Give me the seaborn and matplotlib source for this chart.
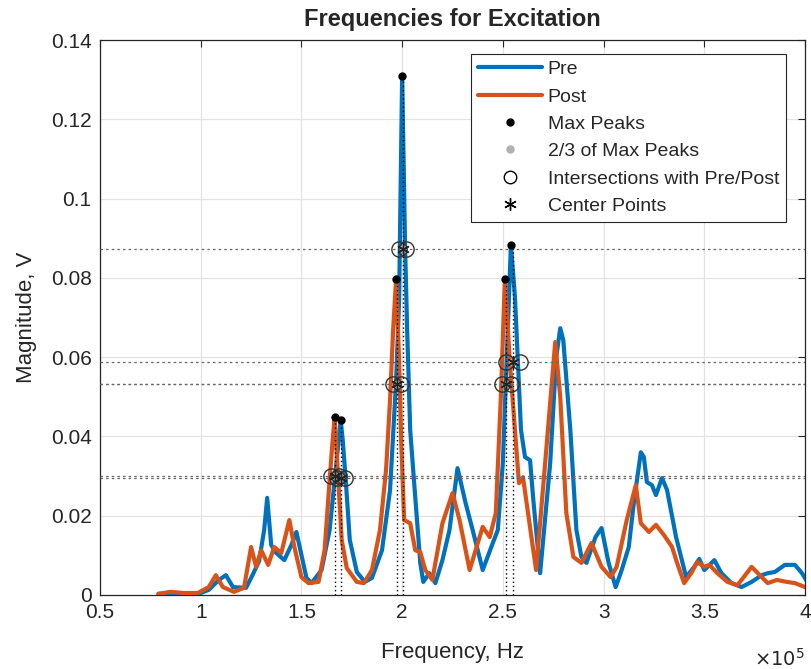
import numpy as np
import pandas as pd
import matplotlib
matplotlib.use("Agg")
import matplotlib.pyplot as plt
import matplotlib.ticker as mtick
from matplotlib.lines import Line2D
import seaborn as sns

# spectra (Hz, V)
pre_freq = [79000, 90000, 100000, 104000, 109000, 112500, 116000, 122500, 126000, 129000,
            131500, 133000, 135000, 137500, 141500, 145000, 147500, 150000, 152500, 155000,
            160000, 164000, 166500, 168500, 169500, 170500, 172000, 174000, 177500, 181500,
            185000, 190000, 194000, 197000, 198500, 200000, 201500, 202500, 204000, 206500,
            209000, 210500, 213500, 216500, 220000, 223500, 227500, 231500, 235000, 240000,
            245000, 247500, 250000, 251500, 254000, 256000, 257500, 259000, 261000, 263500,
            265000, 268500, 273500, 276500, 278500, 280000, 283500, 286500, 289000, 291500,
            296000, 299000, 302500, 306000, 309000, 312500, 315000, 318500, 320000, 321500,
            324000, 326000, 329000, 331500, 336000, 341000, 345000, 347500, 350000, 355000,
            358500, 363500, 368500, 373500, 378500, 381500, 385000, 390000, 395000, 398500,
            401500]
pre_mag = [0.0003, 0.0003, 0.0005, 0.0013, 0.0038, 0.0050, 0.0020, 0.0018, 0.0053, 0.0086,
           0.0164, 0.0245, 0.0126, 0.0106, 0.0088, 0.0126, 0.0159, 0.0101, 0.0043, 0.0030,
           0.0063, 0.0164, 0.0290, 0.0391, 0.0441, 0.0391, 0.0290, 0.0139, 0.0058, 0.0033,
           0.0043, 0.0113, 0.0265, 0.0540, 0.0744, 0.1309, 0.0872, 0.0666, 0.0416, 0.0247,
           0.0081, 0.0033, 0.0055, 0.0030, 0.0088, 0.0164, 0.0320, 0.0232, 0.0164, 0.0063,
           0.0131, 0.0164, 0.0333, 0.0540, 0.0883, 0.0752, 0.0585, 0.0416, 0.0348, 0.0340,
           0.0247, 0.0055, 0.0333, 0.0600, 0.0673, 0.0643, 0.0416, 0.0164, 0.0096, 0.0081,
           0.0146, 0.0169, 0.0081, 0.0020, 0.0063, 0.0121, 0.0232, 0.0360, 0.0348, 0.0285,
           0.0277, 0.0252, 0.0295, 0.0265, 0.0146, 0.0045, 0.0071, 0.0091, 0.0063, 0.0088,
           0.0055, 0.0030, 0.0020, 0.0033, 0.0050, 0.0055, 0.0058, 0.0076, 0.0076, 0.0055,
           0.0030]

post_freq = [79000, 85000, 91500, 98500, 104000, 107500, 111000, 116500, 121500, 125000,
             127500, 130000, 133500, 136500, 140000, 144000, 146500, 150000, 153500, 158500,
             161500, 164000, 165500, 166500, 168000, 170000, 172500, 177500, 181000, 185000,
             189000, 192000, 194000, 195500, 197000, 198500, 199500, 201000, 204000, 206500,
             209000, 211500, 215000, 220000, 225000, 228500, 233500, 240000, 243500, 246500,
             249000, 251000, 253500, 256000, 258000, 260000, 262500, 266500, 271000, 276000,
             278500, 281500, 285000, 289000, 294000, 299000, 303500, 306500, 311500, 316000,
             318500, 322500, 326000, 330000, 334000, 336500, 340000, 343500, 346500, 350000,
             352500, 356500, 361500, 366500, 373500, 378500, 381500, 386000, 391000, 395000,
             400000, 401500]
post_mag = [0.0003, 0.0008, 0.0005, 0.0005, 0.0020, 0.0050, 0.0020, 0.0008, 0.0018, 0.0121,
            0.0071, 0.0113, 0.0076, 0.0121, 0.0106, 0.0189, 0.0121, 0.0045, 0.0030, 0.0033,
            0.0113, 0.0290, 0.0391, 0.0449, 0.0315, 0.0139, 0.0068, 0.0033, 0.0030, 0.0063,
            0.0164, 0.0315, 0.0492, 0.0666, 0.0797, 0.0590, 0.0391, 0.0189, 0.0181, 0.0113,
            0.0108, 0.0063, 0.0038, 0.0181, 0.0257, 0.0189, 0.0063, 0.0172, 0.0146, 0.0207,
            0.0499, 0.0797, 0.0585, 0.0416, 0.0282, 0.0297, 0.0207, 0.0063, 0.0333, 0.0638,
            0.0499, 0.0207, 0.0096, 0.0081, 0.0131, 0.0071, 0.0045, 0.0071, 0.0189, 0.0277,
            0.0181, 0.0159, 0.0177, 0.0151, 0.0121, 0.0081, 0.0030, 0.0055, 0.0083, 0.0071,
            0.0076, 0.0055, 0.0033, 0.0025, 0.0071, 0.0045, 0.0030, 0.0038, 0.0033, 0.0030,
            0.0020, 0.0025]

# peak analysis (pre peaks then post peaks)
peak_freq = [169500, 200000, 254000, 166500, 197000, 251000]
peak_mag = [0.0441, 0.1309, 0.0883, 0.0449, 0.0797, 0.0797]
level_mag = [0.0294, 0.0873, 0.0589, 0.0299, 0.0531, 0.0531]
cross_left = [167500, 198500, 251500, 164500, 195500, 249500]
cross_right = [171500, 202000, 258500, 168500, 199500, 254000]
center_freq = [169500, 200250, 255000, 166500, 197500, 251750]

BLUE = "#0072BD"
ORANGE = "#D95319"
DARK = "#262626"

sns.set_style("whitegrid")
plt.rcParams["font.family"] = ["Liberation Sans", "DejaVu Sans"]

df = pd.concat([
    pd.DataFrame({"Frequency": pre_freq, "Magnitude": pre_mag, "Series": "Pre"}),
    pd.DataFrame({"Frequency": post_freq, "Magnitude": post_mag, "Series": "Post"}),
], ignore_index=True)

fig = plt.figure(figsize=(8.11, 6.69), dpi=100)
ax = fig.add_axes([100 / 811, 74 / 669, 705 / 811, 555 / 669])

sns.lineplot(data=df, x="Frequency", y="Magnitude", hue="Series",
             palette={"Pre": BLUE, "Post": ORANGE}, linewidth=3.0,
             sort=False, legend=False, ax=ax, zorder=3)

# 2/3 levels across the whole plot
for lv in level_mag:
    ax.axhline(lv, color="#666666", linestyle=(0, (2, 2.5)), linewidth=0.9, zorder=4)
# verticals from 0 to each peak at the center points
ax.vlines(center_freq, 0, peak_mag, colors="k", linestyles=(0, (1, 2)),
          linewidth=1.0, zorder=4)

ax.plot(peak_freq, peak_mag, "o", color="k", markersize=5, zorder=6)
ax.plot(center_freq, level_mag, "o", color="#b0b0b0", markersize=5, zorder=5)
ax.plot(cross_left + cross_right, level_mag + level_mag, "o", mfc="none",
        mec="#333333", mew=1.0, markersize=11, zorder=6)
ax.plot(center_freq, level_mag, marker=(6, 2, 0), linestyle="none",
        color="#222222", mew=1.0, markersize=9, zorder=6)

ax.set_xlim(50000, 400000)
ax.set_ylim(0, 0.14)
ax.set_xticks(np.arange(50000, 400001, 50000))
ax.set_yticks(np.arange(0, 0.1401, 0.02))
ax.xaxis.set_major_formatter(mtick.FuncFormatter(lambda v, p: f"{v / 1e5:g}"))
ax.yaxis.set_major_formatter(mtick.FuncFormatter(lambda v, p: f"{v:g}"))
ax.text(1.0, -0.095, r"$\times10^{5}$", transform=ax.transAxes, ha="right",
        va="top", fontsize=14, color=DARK)

ax.grid(True, color="#e3e3e3", linewidth=0.9)
ax.set_axisbelow(True)
for s in ax.spines.values():
    s.set_color(DARK)
    s.set_linewidth(0.9)
ax.tick_params(direction="in", top=True, right=True, length=5, width=0.8,
               colors=DARK, labelsize=15, pad=6)

ax.set_xlabel("Frequency, Hz", fontsize=16, color=DARK, labelpad=14)
ax.set_ylabel("Magnitude, V", fontsize=16, color=DARK, labelpad=10)
ax.set_title("Frequencies for Excitation", fontsize=17, fontweight="bold", pad=10)

handles = [
    Line2D([], [], color=BLUE, linewidth=3.0),
    Line2D([], [], color=ORANGE, linewidth=3.0),
    Line2D([], [], marker="o", color="k", linestyle="none", markersize=5),
    Line2D([], [], marker="o", color="#b0b0b0", linestyle="none", markersize=5),
    Line2D([], [], marker="o", mfc="none", mec="k", linestyle="none", markersize=9),
    Line2D([], [], marker=(6, 2, 0), color="k", linestyle="none", markersize=9),
]
labels = ["Pre", "Post", "Max Peaks", "2/3 of Max Peaks",
          "Intersections with Pre/Post", "Center Points"]
leg = ax.legend(handles, labels, loc="upper right", bbox_to_anchor=(0.973, 0.975),
                fontsize=14, frameon=True, fancybox=False, framealpha=1,
                edgecolor=DARK, handlelength=3.3, handletextpad=0.3,
                labelspacing=0.5, borderpad=0.35, borderaxespad=0)
leg.get_frame().set_linewidth(0.8)
leg.set_zorder(10)

fig.savefig("out.png", dpi=100)
